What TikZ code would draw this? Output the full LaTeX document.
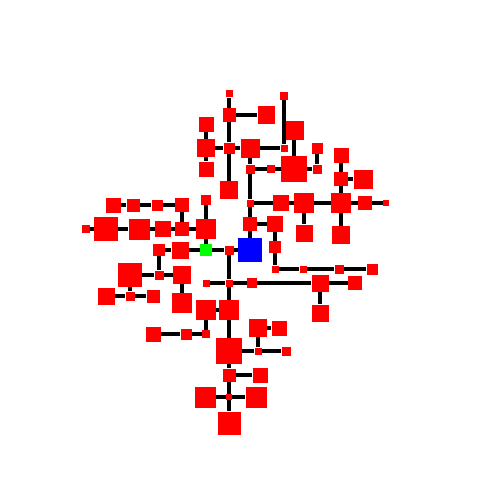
\documentclass[tikz,border=0pt]{standalone}
\usetikzlibrary{backgrounds}
\definecolor{cred}{RGB}{255,0,0}
\definecolor{cblue}{RGB}{0,0,255}
\definecolor{cgreen}{RGB}{0,255,0}
\tikzset{
  every picture/.style={x=0.02cm, y=-0.02cm},
  sq/.style={fill=cred, draw=none, inner sep=0pt, minimum size=#1*0.02cm},
  sq/.default=12,
  link/.style={draw=black, line width=2pt},
}

\begin{document}
\begin{tikzpicture}
  \useasboundingbox (0,0) rectangle (500,500);
  % red squares: name/x/y/size in pixels
  \foreach \n/\x/\y/\s in {
      a1/229/94/7, a2/229/115/13, a3/266/115/17, a4/284/96/8, a5/206/124/15,
      a6/294/130/19, a7/206/148/18, a8/229/148/11, a9/250/148/19, a10/284/148/7,
      a11/317/148/11, a12/206/169/15, a13/250/169/9, a14/271/169/8, a15/294/169/26,
      a16/317/169/9, a17/229/190/18, a18/250/203/7, a19/281/203/16, a20/304/203/20,
      a21/206/200/10,
      b1/341/155/15, b2/341/179/14, b3/363/179/19, b4/341/203/20, b5/365/203/14,
      b6/386/203/6, b7/341/235/18, b8/304/233/17,
      c1/250/224/14, c2/275/224/16, c3/275/247/12, c4/229/250/9,
      c5/275/269/7, c6/303/269/7, c7/339/269/9, c8/372/269/11,
      d1/206/283/7, d2/229/283/7, d3/252/283/10, d4/320/283/17, d5/355/283/14,
      d6/320/313/17,
      e1/113/205/15, e2/133/205/13, e3/157/205/11, e4/182/205/14,
      f1/86/229/8, f2/106/229/24, f3/139/229/21, f4/163/229/16, f5/182/229/14,
      f6/206/229/20,
      g1/159/250/12, g2/180/250/17,
      h1/130/275/24, h2/159/275/9, h3/182/275/18,
      i1/106/296/17, i2/130/296/9, i3/182/303/20, i4/153/296/13,
      j1/206/310/20, j2/229/310/20,
      k1/153/334/15, k2/186/334/11, k3/206/334/8,
      l1/258/328/18, l2/279/328/15,
      m1/229/351/26, m2/258/351/7, m3/286/351/9,
      n1/229/375/13, n2/260/375/15,
      o1/205/397/21, o2/229/397/6, o3/256/397/21,
      p1/229/423/23}
    \node[sq=\s] (\n) at (\x,\y) {};
  % the root and the start
  \node[sq=24, fill=cblue] (root) at (250,250) {};
  \node[sq=12, fill=cgreen] (start) at (206,250) {};
  % tree edges
  \foreach \a/\b in {
      a1/a2, a2/a3, a2/a8, a8/a17, a5/a7, a7/a12, a7/a8, a8/a9, a9/a10, a4/a10,
      a6/a15, a11/a16, a9/a13, a13/a14, a14/a15, a15/a16, a13/a18, a18/a19,
      a19/a20, a20/b4, a20/b8, b1/b2, b2/b3, b2/b4, b4/b5, b5/b6, b4/b7,
      a18/c1, c1/c2, c1/root, c2/c3, c3/c5, c5/c6, c6/c7, c7/c8,
      c4/root, start/c4, c4/d2, d1/d2, d2/d3, d3/d4, d4/d5, d4/d6,
      d2/j2, j1/j2, j1/k3, k1/k2, k2/k3, j2/m1, l1/l2, l1/m2, m1/m2, m2/m3,
      m1/n1, n1/n2, n1/o2, o1/o2, o2/o3, o2/p1,
      e1/e2, e2/e3, e3/e4, e4/f5, f1/f2, f2/f3, f3/f4, f4/f5, f5/f6,
      a21/f6, f6/start, g1/g2, g2/start, g1/h2, h1/h2, h2/h3, h3/i3,
      h1/i2, i1/i2, i2/i4}
    \draw[link] (\a) -- (\b);
\end{tikzpicture}
\end{document}
